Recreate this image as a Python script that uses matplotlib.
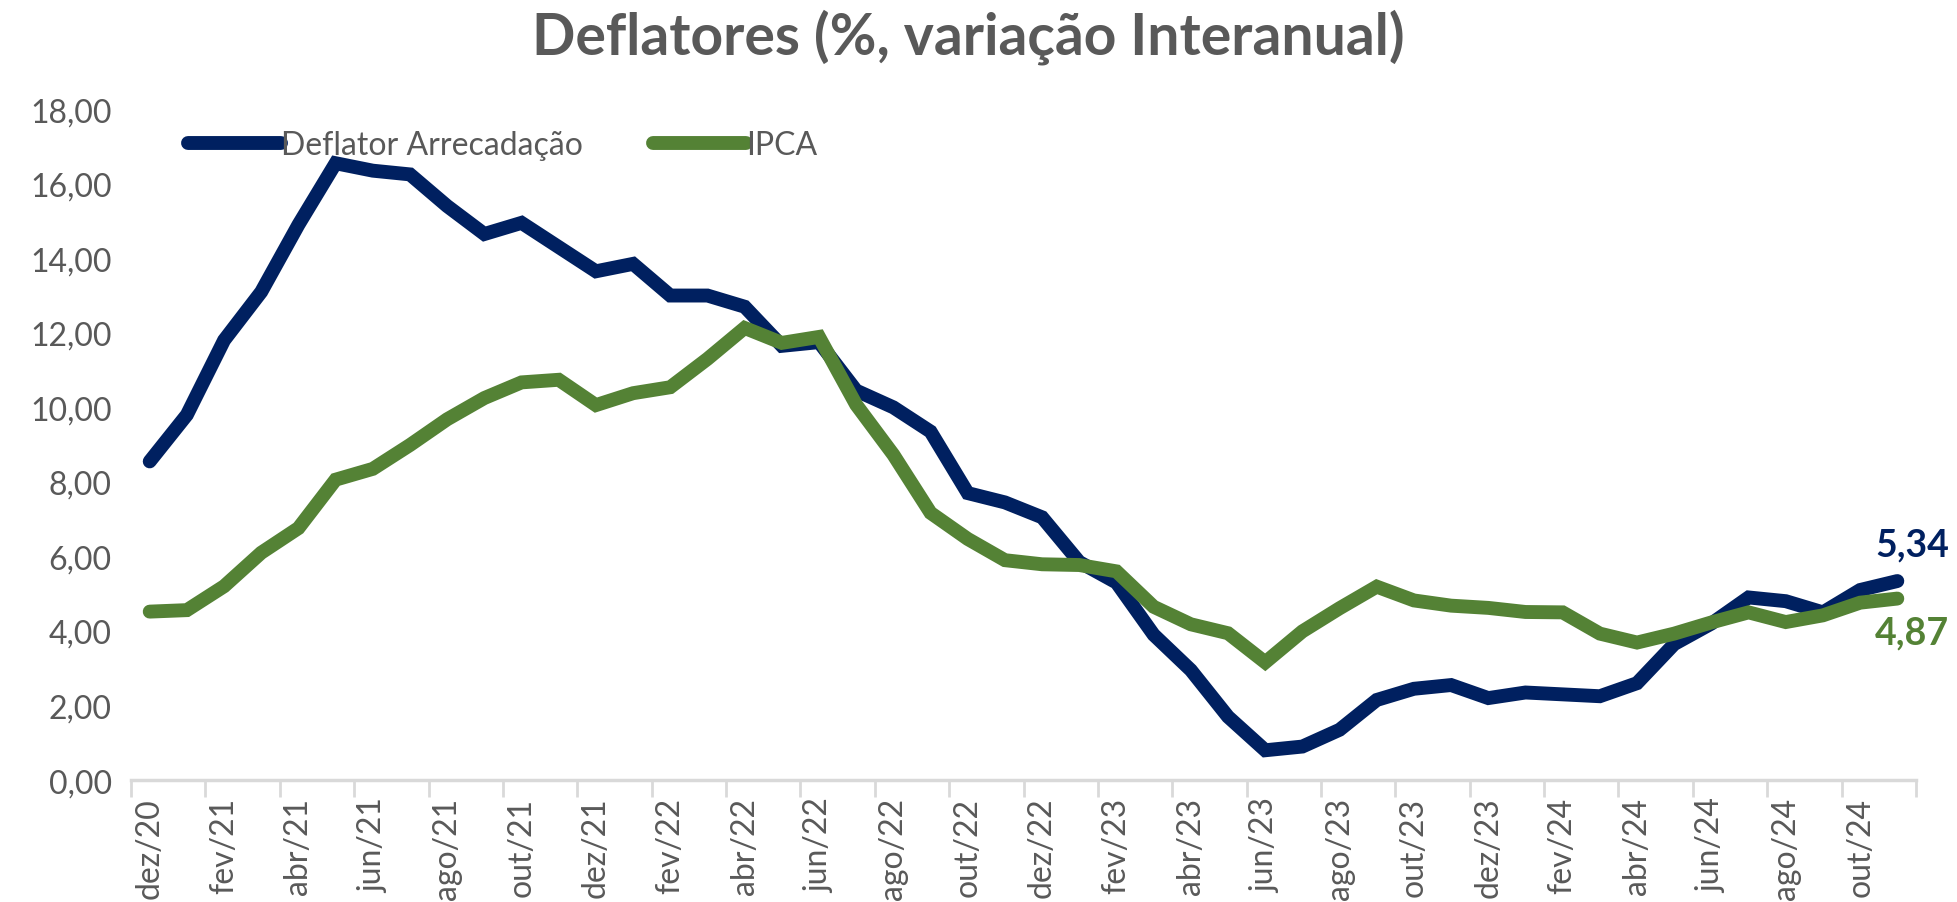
import matplotlib
matplotlib.use("Agg")
from matplotlib import pyplot as plt
import numpy as np

# meses dez/20 .. nov/24
meses = ["dez/20", "jan/21", "fev/21", "mar/21", "abr/21", "mai/21", "jun/21", "jul/21",
         "ago/21", "set/21", "out/21", "nov/21", "dez/21", "jan/22", "fev/22", "mar/22",
         "abr/22", "mai/22", "jun/22", "jul/22", "ago/22", "set/22", "out/22", "nov/22",
         "dez/22", "jan/23", "fev/23", "mar/23", "abr/23", "mai/23", "jun/23", "jul/23",
         "ago/23", "set/23", "out/23", "nov/23", "dez/23", "jan/24", "fev/24", "mar/24",
         "abr/24", "mai/24", "jun/24", "jul/24", "ago/24", "set/24", "out/24", "nov/24"]

deflator = [8.55, 9.80, 11.80, 13.10, 14.90, 16.55, 16.35, 16.25,
            15.40, 14.65, 14.95, 14.30, 13.65, 13.85, 13.00, 13.00,
            12.70, 11.65, 11.75, 10.45, 10.00, 9.35, 7.70, 7.45,
            7.05, 5.85, 5.30, 3.90, 2.95, 1.70, 0.80, 0.90,
            1.35, 2.15, 2.45, 2.55, 2.20, 2.35, 2.30, 2.25,
            2.60, 3.65, 4.20, 4.90, 4.80, 4.50, 5.10, 5.34]

ipca = [4.52, 4.56, 5.20, 6.10, 6.76, 8.06, 8.35, 8.99,
        9.68, 10.25, 10.67, 10.74, 10.06, 10.38, 10.54, 11.30,
        12.13, 11.73, 11.89, 10.07, 8.73, 7.17, 6.47, 5.90,
        5.79, 5.77, 5.60, 4.65, 4.18, 3.94, 3.16, 3.99,
        4.61, 5.19, 4.82, 4.68, 4.62, 4.51, 4.50, 3.93,
        3.69, 3.93, 4.23, 4.50, 4.24, 4.42, 4.76, 4.87]

azul = "#002060"
verde = "#548235"
cinza = "#595959"

plt.rcParams['font.family'] = ['Lato', 'DejaVu Sans']

fig = plt.figure(figsize=(19.57, 9.03), dpi=100)
ax = fig.add_axes([0.067, 0.135, 0.912, 0.743])

x = np.arange(len(meses))
ax.plot(x, deflator, color=azul, lw=10, solid_joinstyle='miter', solid_capstyle='round',
        label="Deflator Arrecadação")
ax.plot(x, ipca, color=verde, lw=10, solid_joinstyle='miter', solid_capstyle='round',
        label="IPCA")

ax.set_xlim(-0.5, len(meses) - 0.5)
ax.set_ylim(0, 18)
ax.set_yticks(np.arange(0, 18.1, 2))
ax.set_yticklabels(["{:.2f}".format(v).replace(".", ",") for v in np.arange(0, 18.1, 2)],
                   fontsize=23, color=cinza)
ax.tick_params(axis='y', length=0, pad=14)

ax.set_xticks(x[::2])
ax.set_xticklabels(meses[::2], rotation=90, fontsize=23, color=cinza)
ax.set_xticks(np.arange(-0.5, len(meses), 2), minor=True)
ax.tick_params(axis='x', which='major', length=0, pad=12)
ax.tick_params(axis='x', which='minor', length=12, width=2, color="#D9D9D9")

for s in ['top', 'right', 'left']:
    ax.spines[s].set_visible(False)
ax.spines['bottom'].set_color("#D9D9D9")
ax.spines['bottom'].set_linewidth(2.5)

# rotulos finais
ax.annotate("5,34", (x[-1], deflator[-1]), xytext=(-16, 14), textcoords='offset points',
            color=azul, fontsize=27, fontweight='bold', ha='left', va='bottom')
ax.annotate("4,87", (x[-1], ipca[-1]), xytext=(-16, -12), textcoords='offset points',
            color=verde, fontsize=27, fontweight='bold', ha='left', va='top')

leg = ax.legend(loc='upper left', bbox_to_anchor=(0.016, 1.012), ncol=2, frameon=False,
                fontsize=23, handlelength=2.9, handletextpad=0.0, columnspacing=2.2)
for t in leg.get_texts():
    t.set_color(cinza)

fig.suptitle("Deflatores (%, variação Interanual)", x=0.495, y=0.99, fontsize=41,
             fontweight='bold', color=cinza)

plt.savefig("out.png", dpi=100)
